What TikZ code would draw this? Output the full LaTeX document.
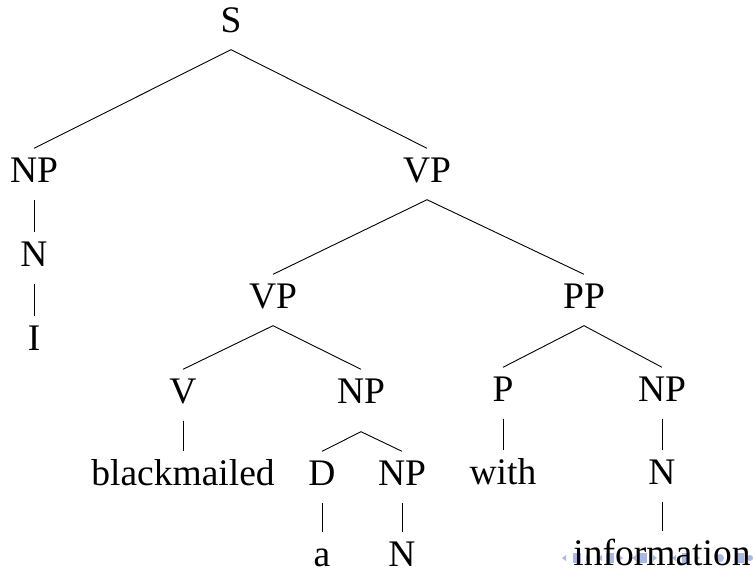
\documentclass[tikz,border=0pt]{standalone}
\usepackage{fontspec}
\setmainfont{Liberation Serif}
\definecolor{navblue}{RGB}{170,185,225}
\begin{document}
\begin{tikzpicture}[x=1pt,y=-1pt,
  lab/.style={anchor=base,font=\fontsize{37.5}{40}\selectfont,text height=23pt,text depth=7pt,inner xsep=2pt,inner ysep=10.5pt},
  leaf/.style={lab,text depth=0pt,inner ysep=1pt},
  br/.style={line width=0.9pt},
  nav/.style={fill=navblue,draw=none}]
\useasboundingbox (0,0) rectangle (755,571);
% beamer navigation symbols (faint)
\begin{scope}[nav]
  \foreach \lx/\ix/\rx in {562/577/590, 598/610/623, 632/643/657, 672/686/700}{
    \fill (\lx,558) -- (\lx+4,555) -- (\lx+4,561) -- cycle;
    \fill (\ix-4,553) rectangle (\ix+4,563);
    \fill (\rx,558) -- (\rx-4,555) -- (\rx-4,561) -- cycle;
  }
  \fill (720,558) circle (4);
  \fill (736,553) rectangle (744,563);
  \fill (750,558) circle (3);
\end{scope}
% nodes
\node[lab] (S) at (231,32) {S};
\node[lab] (NPa) at (34,182) {NP};
\node[lab] (VPa) at (427,182) {VP};
\node[lab] (Na) at (34,266) {N};
\node[lab] (I) at (34,350) {I};
\node[lab] (VPb) at (273,308) {VP};
\node[lab] (PP) at (584,308) {PP};
\node[lab] (V) at (183,403) {V};
\node[lab] (NPb) at (361,403) {NP};
\node[lab] (P) at (503,401) {P};
\node[lab] (NPc) at (662,401) {NP};
\node[lab] (bm) at (183,485) {blackmailed};
\node[lab] (D) at (322,485) {D};
\node[lab] (NPd) at (402,485) {NP};
\node[lab] (with) at (503,484) {with};
\node[lab] (Nc) at (662,484) {N};
\node[leaf] (a) at (322,566) {a};
\node[leaf] (Nb) at (402,566) {N};
\node[leaf] (info) at (662,565) {information};
% branches
\draw[br] (NPa.north) -- (S.south) -- (VPa.north);
\draw[br] (NPa.south) -- (Na.north);
\draw[br] (Na.south) -- (I.north);
\draw[br] (VPb.north) -- (VPa.south) -- (PP.north);
\draw[br] (V.north) -- (VPb.south) -- (NPb.north);
\draw[br] (P.north) -- (PP.south) -- (NPc.north);
\draw[br] (V.south) -- (bm.north);
\draw[br] (D.north) -- ([yshift=-11pt]NPb.south) -- (NPd.north);
\draw[br] (P.south) -- (with.north);
\draw[br] (NPc.south) -- (Nc.north);
\draw[br] (D.south) -- ([yshift=9.5pt]a.north);
\draw[br] (NPd.south) -- ([yshift=9.5pt]Nb.north);
\draw[br] (Nc.south) -- ([yshift=9.5pt]info.north);
\end{tikzpicture}
\end{document}
